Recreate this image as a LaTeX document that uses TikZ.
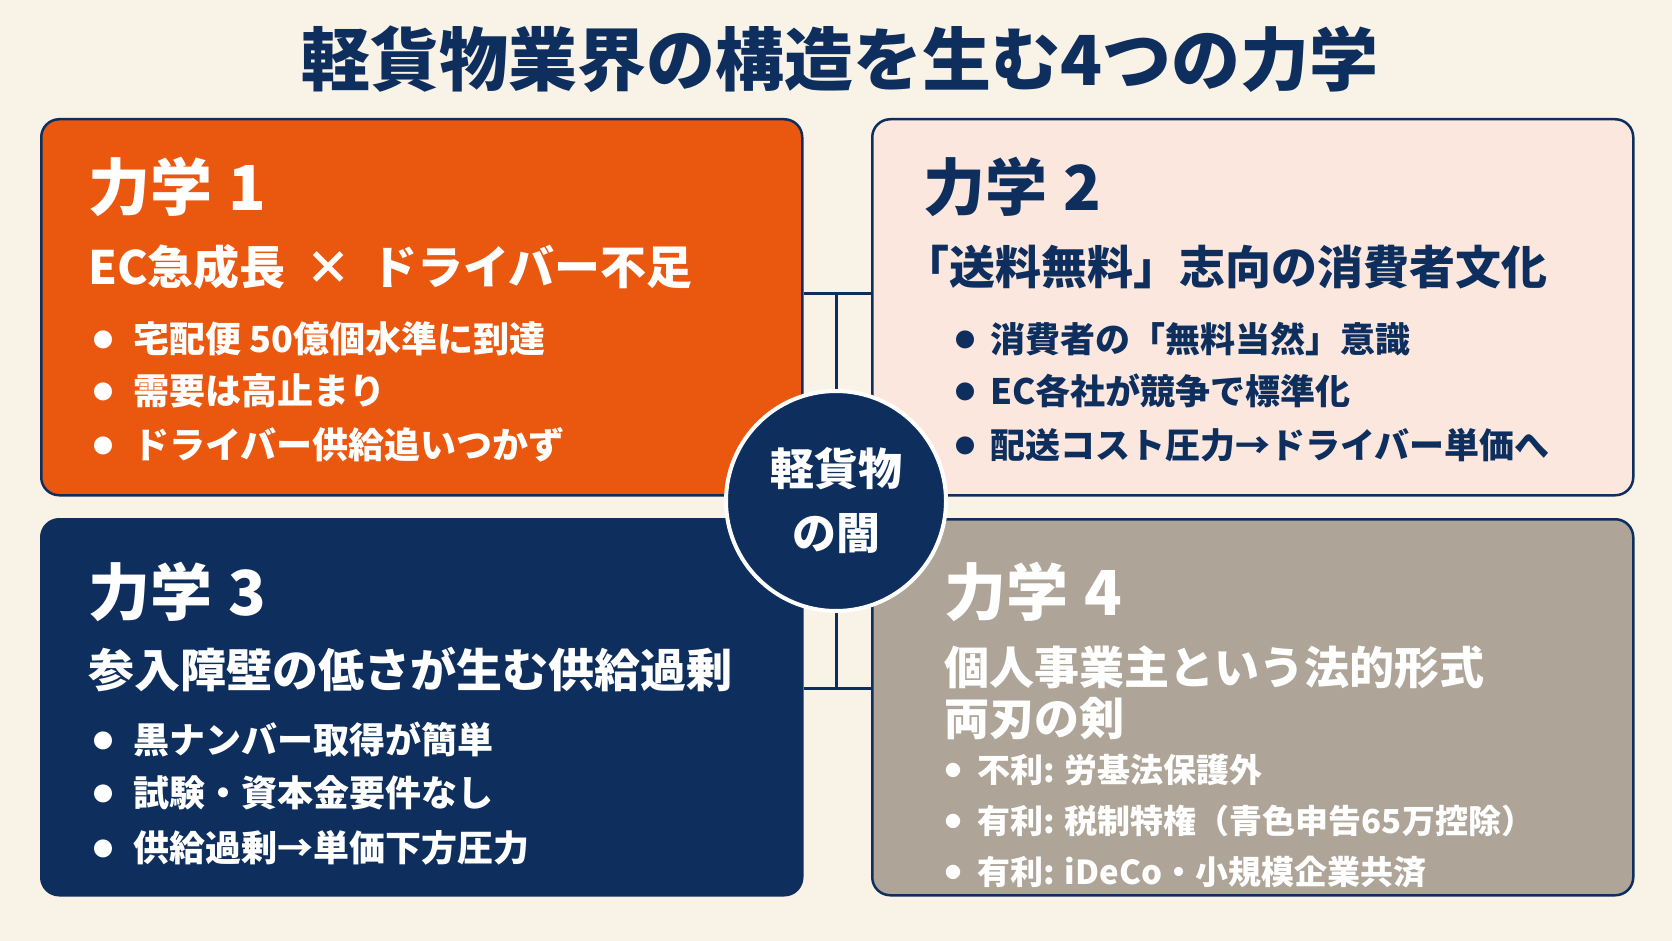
\documentclass[tikz,border=0pt]{standalone}
\usepackage{fontspec}
\setmainfont{Noto Sans CJK JP}
\usetikzlibrary{positioning}
\definecolor{cream}{HTML}{F9F2E6}
\definecolor{navy}{HTML}{0E2F5E}
\definecolor{rust}{HTML}{EA580F}
\definecolor{peach}{HTML}{FBE7DD}
\definecolor{taupe}{HTML}{AEA497}
% bullet dot: size, raise
\newcommand{\bul}[2]{\raisebox{#2}{\fontsize{#1}{#1}\selectfont ●}}

\begin{document}
\begin{tikzpicture}[x=1pt, y=-1pt,
    panel/.style={draw=navy, line width=2.5pt, rounded corners=18pt,
      minimum width=761pt, minimum height=376pt, anchor=north west},
    head/.style={anchor=west, inner sep=0pt,
      font=\fontsize{62}{62}\selectfont\bfseries},
    sub/.style={anchor=west, inner sep=0pt, align=left,
      font=\fontsize{46}{52}\selectfont\bfseries},
    itm/.style={anchor=west, inner sep=0pt,
      font=\fontsize{36}{36}\selectfont\bfseries},
    sitm/.style={itm, font=\fontsize{33}{33}\selectfont\bfseries},
    link/.style={draw=navy, line width=3pt}]
  % --- background ---
  \fill[cream] (0,0) rectangle (1672,941);
  \useasboundingbox (0,0) rectangle (1672,941);
  % --- title ---
  \node[font=\fontsize{69}{69}\selectfont\bfseries, text=navy, inner sep=0pt]
    (title) at (840,59) {軽貨物業界の構造を生む4つの力学};
  % --- four panels ---
  \node[panel, fill=rust]  (p1) at (40,118) {};
  \node[panel, fill=peach] (p2) at (871,118) {};
  \node[panel, fill=navy]  (p3) at (40,518) {};
  \node[panel, fill=taupe] (p4) at (871,518) {};
  % --- links to the core ---
  \coordinate (tj) at (836,293);
  \coordinate (bj) at (836,688);
  \draw[link] (tj -| p1.east) -- (tj -| p2.west);
  \draw[link] (bj -| p3.east) -- (bj -| p4.west);
  \draw[link] (tj) -- (836,400);
  \draw[link] (bj) -- (836,600);
  % --- core ---
  \node[circle, fill=navy, draw=white, line width=4pt, minimum size=220pt,
        align=center, text=white,
        font=\fontsize{44}{64}\selectfont\bfseries] (core) at (836,501)
    {軽貨物\\の闇};
  % --- panel 1 ---
  \node[head, text=white] (h1) at (88,187) {力学\hspace{16pt}1};
  \node[sub, text=white] (s1) at (88,267)
    {EC急成長\hspace{20pt}×\hspace{20pt}ドライバー不足};
  \node[itm, text=white] (a1) at (93,339) {\bul{20}{5pt}\hspace{20pt}宅配便 50億個水準に到達};
  \node[itm, text=white] (b1) at (93,391) {\bul{20}{5pt}\hspace{20pt}需要は高止まり};
  \node[itm, text=white] (c1) at (93,445) {\bul{20}{5pt}\hspace{20pt}ドライバー供給追いつかず};
  % --- panel 2 ---
  \node[head, text=navy] (h2) at (923,187) {力学\hspace{16pt}2};
  \node[sub, text=navy] (s2) at (903,267) {「送料無料」志向の消費者文化};
  \node[itm, text=navy, font=\fontsize{35}{35}\selectfont\bfseries] (a2) at (955,339)
    {\bul{20}{5pt}\hspace{15pt}消費者の「無料当然」意識};
  \node[itm, text=navy, font=\fontsize{35}{35}\selectfont\bfseries] (b2) at (955,391)
    {\bul{20}{5pt}\hspace{15pt}EC各社が競争で標準化};
  \node[itm, text=navy, font=\fontsize{35}{35}\selectfont\bfseries] (c2) at (955,445)
    {\bul{20}{5pt}\hspace{15pt}配送コスト圧力→ドライバー単価へ};
  % --- panel 3 ---
  \node[head, text=white] (h3) at (88,592) {力学\hspace{16pt}3};
  \node[sub, text=white] (s3) at (88,670) {参入障壁の低さが生む供給過剰};
  \node[itm, text=white] (a3) at (93,739) {\bul{20}{5pt}\hspace{20pt}黒ナンバー取得が簡単};
  \node[itm, text=white] (b3) at (93,793) {\bul{20}{5pt}\hspace{20pt}試験・資本金要件なし};
  \node[itm, text=white] (c3) at (93,848) {\bul{20}{5pt}\hspace{20pt}供給過剰→単価下方圧力};
  % --- panel 4 ---
  \node[head, text=white] (h4) at (944,592) {力学\hspace{16pt}4};
  \node[sub, text=white, anchor=north west,
        font=\fontsize{45}{51}\selectfont\bfseries] (s4) at (944,646)
    {個人事業主という法的形式\\両刃の剣};
  \node[sitm, text=white] (a4) at (945,770) {\bul{16}{6pt}\hspace{16pt}不利: 労基法保護外};
  \node[sitm, text=white] (b4) at (945,821) {\bul{16}{6pt}\hspace{16pt}有利: 税制特権（青色申告65万控除）};
  \node[sitm, text=white] (c4) at (945,872) {\bul{16}{6pt}\hspace{16pt}有利: iDeCo・小規模企業共済};
\end{tikzpicture}
\end{document}
